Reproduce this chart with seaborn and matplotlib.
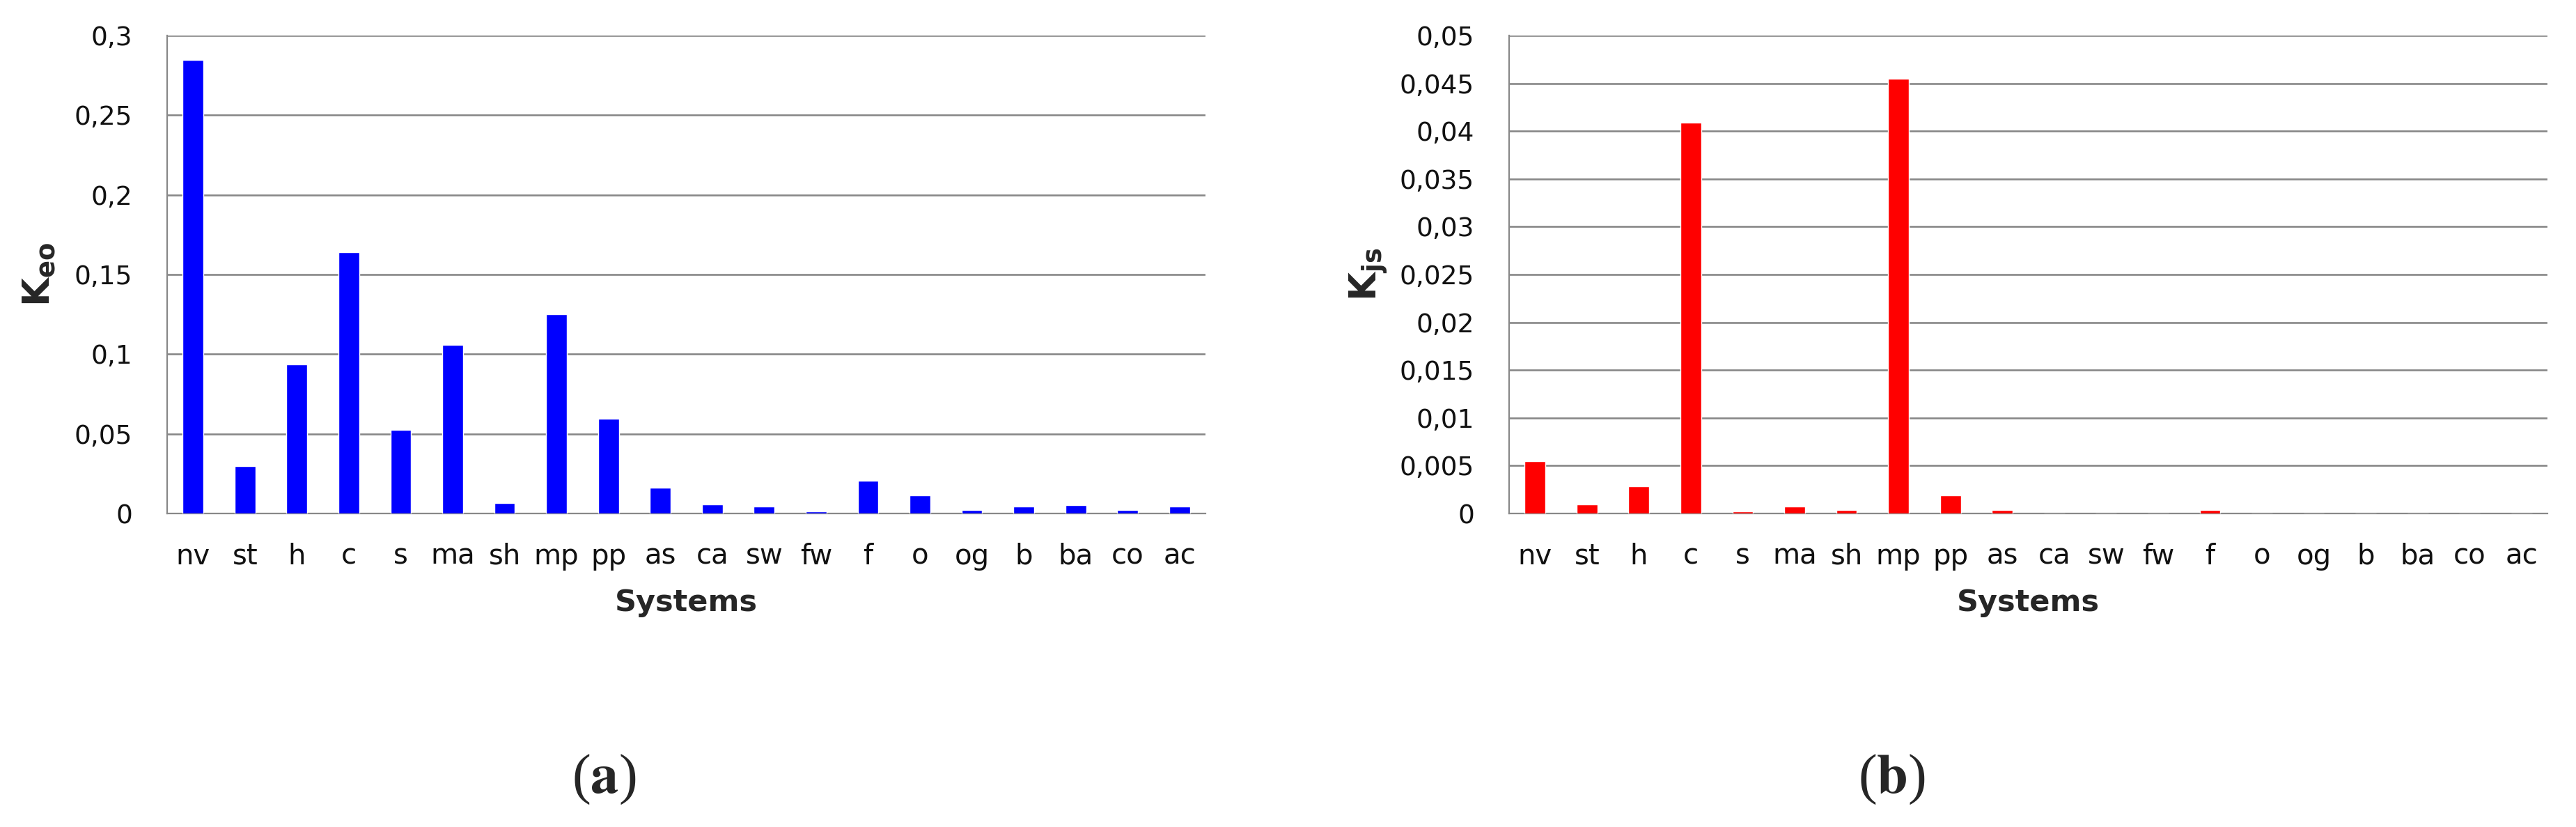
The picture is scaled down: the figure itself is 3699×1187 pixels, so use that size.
import numpy as np
import pandas as pd
import seaborn as sns
import matplotlib
matplotlib.use("Agg")
import matplotlib.pyplot as plt
from matplotlib import font_manager
from matplotlib.ticker import FixedLocator

# data
systems = ["nv", "st", "h", "c", "s", "ma", "sh", "mp", "pp", "as",
           "ca", "sw", "fw", "f", "o", "og", "b", "ba", "co", "ac"]
k_eo = [0.2848, 0.0299, 0.0937, 0.1639, 0.0523, 0.1058, 0.0067, 0.1252, 0.0596, 0.0161,
        0.0059, 0.0042, 0.0015, 0.0207, 0.0115, 0.0023, 0.0042, 0.0052, 0.0023, 0.0042]
k_js = [0.00547, 0.00098, 0.00286, 0.04087, 0.00021, 0.00070, 0.00035, 0.04547, 0.00192, 0.00035,
        0.0, 0.0, 0.0, 0.00035, 0.0, 0.0, 0.0, 0.0, 0.0, 0.0]

yticks_a = [0, 0.05, 0.1, 0.15, 0.2, 0.25, 0.3]
ylabels_a = ["0", "0,05", "0,1", "0,15", "0,2", "0,25", "0,3"]
yticks_b = [0, 0.005, 0.01, 0.015, 0.02, 0.025, 0.03, 0.035, 0.04, 0.045, 0.05]
ylabels_b = ["0", "0,005", "0,01", "0,015", "0,02", "0,025", "0,03", "0,035", "0,04", "0,045", "0,05"]

df = pd.DataFrame({"system": systems, "k_eo": k_eo, "k_js": k_js})

sns.set_style("white")
plt.rcParams["font.family"] = ["DejaVu Sans"]

# narrow bold face for the K labels if there is one
installed = {f.name for f in font_manager.fontManager.ttflist}
narrow = "Liberation Sans Narrow" if "Liberation Sans Narrow" in installed else "DejaVu Sans"
plt.rcParams["mathtext.fontset"] = "custom"
plt.rcParams["mathtext.bf"] = narrow + ":bold"
plt.rcParams["mathtext.rm"] = narrow
plt.rcParams["mathtext.it"] = narrow + ":italic"

W, H = 3699, 1187
fig = plt.figure(figsize=(W / 100, H / 100), dpi=100)

grid_col = "#888888"


def draw_panel(left, col, color, yticks, ylabels, ylabel):
    ax = fig.add_axes([left / W, 1 - 737 / H, 1491 / W, (737 - 51) / H])
    sns.barplot(data=df, x="system", y=col, color=color, width=0.4,
                saturation=1, ax=ax, zorder=3)
    ax.set_xlim(-0.5, len(systems) - 0.5)
    ax.set_ylim(yticks[0], yticks[-1])
    ax.set_yticks(yticks)
    ax.set_yticklabels(ylabels)
    ax.yaxis.grid(True, color=grid_col, linewidth=1.9, zorder=0)
    ax.set_axisbelow(True)
    for s in ["top", "right"]:
        ax.spines[s].set_visible(False)
    for s in ["left", "bottom"]:
        ax.spines[s].set_color(grid_col)
        ax.spines[s].set_linewidth(1.6)
    ax.tick_params(axis="y", direction="out", length=12, width=1.6, color=grid_col,
                   pad=24, labelsize=27, labelcolor="#111111")
    ax.tick_params(axis="x", which="major", length=0, pad=30, labelsize=29, labelcolor="#111111")
    ax.xaxis.set_minor_locator(FixedLocator(np.arange(-0.5, len(systems), 1.0)))
    ax.tick_params(axis="x", which="minor", direction="out", length=12, width=1.6, color=grid_col)
    ax.set_xlabel("Systems", fontsize=31, fontweight="bold", labelpad=18)
    ax.set_ylabel(ylabel, fontsize=38)
    return ax


ax_a = draw_panel(240, "k_eo", "#0000FF", yticks_a, ylabels_a, r"$\mathbf{K_{eo}}$")
ax_b = draw_panel(2167, "k_js", "#FF0000", yticks_b, ylabels_b, r"$\mathbf{K_{js}}$")
ax_a.yaxis.set_label_coords((82 - 240) / 1491, 0.5)
ax_b.yaxis.set_label_coords((1996 - 2167) / 1491, 0.5)

# panel captions, same spot in each half of the figure
for xc, letter in [(867, "a"), (867 + W / 2, "b")]:
    fig.text(xc / W, 1 - 1119 / H, r"($\mathbf{" + letter + r"}$)", ha="center", va="center",
             fontsize=58, family="Liberation Serif", math_fontfamily="stix")

fig.savefig("out.png", dpi=100)
